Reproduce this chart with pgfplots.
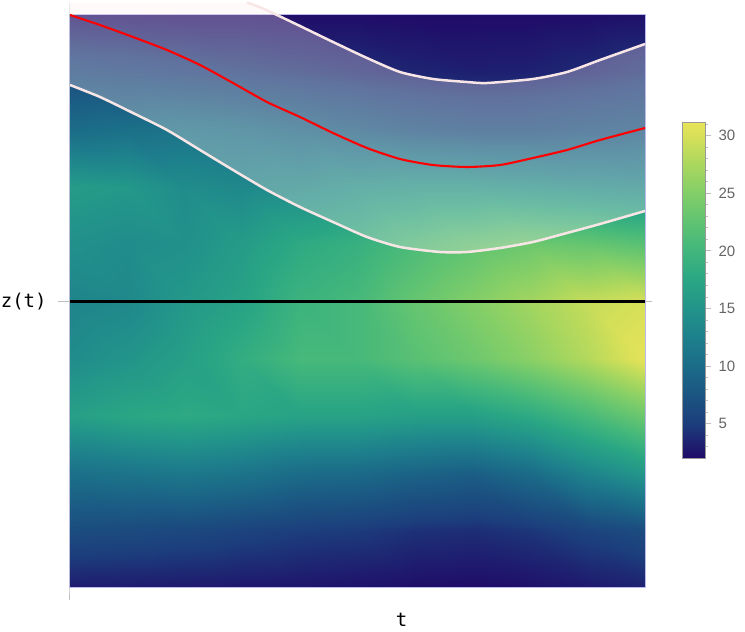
\documentclass[border=0pt]{standalone}
\usepackage{fontspec}
\setmainfont{Liberation Sans}
\setmonofont{DejaVu Sans Mono}
\usepackage{pgfplots}
\pgfplotsset{compat=1.18}

\definecolor{bandfill}{RGB}{255,238,238}
\definecolor{bandline}{RGB}{248,230,230}
\definecolor{frameline}{RGB}{185,185,235}
\definecolor{axgray}{RGB}{190,190,190}
\definecolor{ticklab}{RGB}{100,100,100}

\begin{document}
\begin{tikzpicture}
\useasboundingbox (-35pt,-22pt) rectangle (337.5pt,294pt);
\begin{axis}[
    scale only axis,
    width=287.5pt, height=286.5pt,
    xmin=0, xmax=1, ymin=-1, ymax=1,
    hide axis,
    clip=false,
    point meta min=2, point meta max=31.2,
    colormap={dens}{
        rgb255(2pt)=(32,10,104)
        rgb255(5pt)=(28,62,124)
        rgb255(7.5pt)=(27,85,130)
        rgb255(10pt)=(27,108,136)
        rgb255(12.5pt)=(30,128,140)
        rgb255(15pt)=(34,148,138)
        rgb255(17.5pt)=(42,166,132)
        rgb255(20pt)=(65,182,124)
        rgb255(22.5pt)=(95,195,114)
        rgb255(25pt)=(130,206,104)
        rgb255(27.5pt)=(170,215,94)
        rgb255(30pt)=(215,224,88)
        rgb255(31.2pt)=(232,228,88)
    },
    colorbar,
    colorbar style={
        at={(parent axis.north east)}, anchor=north west,
        xshift=10.2pt, yshift=-53.5pt,
        scale only axis, width=11.5pt, height=168pt,
        axis line style={draw=black!40, line width=0.4pt},
        ytick={5,10,...,30},
        minor ytick={3,4,...,31},
        ytick pos=right,
        tick align=outside,
        major tick length=3pt,
        minor tick length=1.5pt,
        tick style={draw=axgray, line width=0.4pt},
        minor tick style={draw=axgray, line width=0.4pt},
        /pgf/number format/assume math mode=true,
        yticklabel style={font=\fontsize{7.5pt}{9pt}\selectfont, text=ticklab},
    },
]

% density field, rows of constant z
\addplot[surf, shader=interp, mesh/rows=11, mesh/cols=11, point meta=explicit]
table[x=t, y=z, meta=c] {
t z c
0.0 -1.0 3.0
0.1 -1.0 2.9
0.2 -1.0 2.8
0.3 -1.0 2.7
0.4 -1.0 2.6
0.5 -1.0 2.4
0.6 -1.0 2.2
0.7 -1.0 2.1
0.8 -1.0 2.3
0.9 -1.0 2.8
1.0 -1.0 3.3
0.0 -0.8 6.5
0.1 -0.8 6.3
0.2 -0.8 6.0
0.3 -0.8 5.5
0.4 -0.8 5.0
0.5 -0.8 4.8
0.6 -0.8 4.2
0.7 -0.8 4.0
0.8 -0.8 4.5
0.9 -0.8 5.5
1.0 -0.8 6.5
0.0 -0.6 10.5
0.1 -0.6 11.0
0.2 -0.6 11.5
0.3 -0.6 11.0
0.4 -0.6 10.0
0.5 -0.6 9.8
0.6 -0.6 9.0
0.7 -0.6 8.5
0.8 -0.6 10.0
0.9 -0.6 13.0
1.0 -0.6 15.5
0.0 -0.4 16.5
0.1 -0.4 17.5
0.2 -0.4 18.0
0.3 -0.4 17.5
0.4 -0.4 17.0
0.5 -0.4 17.0
0.6 -0.4 16.5
0.7 -0.4 16.5
0.8 -0.4 18.0
0.9 -0.4 20.5
1.0 -0.4 23.5
0.0 -0.2 14.0
0.1 -0.2 15.0
0.2 -0.2 16.5
0.3 -0.2 18.5
0.4 -0.2 20.5
0.5 -0.2 20.5
0.6 -0.2 22.0
0.7 -0.2 23.5
0.8 -0.2 25.5
0.9 -0.2 28.0
1.0 -0.2 31.0
0.0 0.0 13.0
0.1 0.0 13.5
0.2 0.0 15.5
0.3 0.0 17.0
0.4 0.0 19.5
0.5 0.0 20.5
0.6 0.0 23.0
0.7 0.0 25.0
0.8 0.0 27.0
0.9 0.0 29.0
1.0 0.0 30.0
0.0 0.2 14.5
0.1 0.2 14.0
0.2 0.2 14.5
0.3 0.2 16.0
0.4 0.2 18.0
0.5 0.2 19.0
0.6 0.2 21.0
0.7 0.2 22.5
0.8 0.2 23.5
0.9 0.2 23.0
1.0 0.2 22.0
0.0 0.4 16.0
0.1 0.4 15.5
0.2 0.4 14.0
0.3 0.4 13.5
0.4 0.4 14.0
0.5 0.4 15.0
0.6 0.4 15.5
0.7 0.4 15.5
0.8 0.4 15.0
0.9 0.4 14.5
1.0 0.4 14.0
0.0 0.6 10.0
0.1 0.6 10.5
0.2 0.6 11.0
0.3 0.6 10.5
0.4 0.6 9.5
0.5 0.6 8.5
0.6 0.6 7.5
0.7 0.6 7.0
0.8 0.6 7.0
0.9 0.6 7.5
1.0 0.6 8.0
0.0 0.8 6.5
0.1 0.8 6.0
0.2 0.8 5.5
0.3 0.8 5.0
0.4 0.8 4.5
0.5 0.8 4.0
0.6 0.8 3.5
0.7 0.8 3.2
0.8 0.8 3.3
0.9 0.8 3.8
1.0 0.8 4.5
0.0 1.0 2.5
0.1 1.0 2.4
0.2 1.0 2.3
0.3 1.0 2.3
0.4 1.0 2.2
0.5 1.0 2.2
0.6 1.0 2.1
0.7 1.0 2.1
0.8 1.0 2.1
0.9 1.0 2.2
1.0 1.0 2.4
};

% frame of the density region
\draw[frameline, line width=0.5pt] (axis cs:0,-1) rectangle (axis cs:1,1);

% translucent band between the two white curves
\addplot[draw=none, fill=bandfill, fill opacity=0.3] coordinates {
(0,1.0436) (0.3078,1.0436) (0.3339,1.0244) (0.36,1.0) (0.4,0.9616)
(0.4574,0.9058) (0.5165,0.8499) (0.5739,0.8010) (0.6313,0.7766)
(0.6904,0.7661) (0.7252,0.7626) (0.8052,0.7766) (0.8643,0.8010)
(0.9217,0.8429) (1,0.8988)
(1,0.3159) (0.9217,0.2705) (0.8643,0.2391) (0.8052,0.2077)
(0.7478,0.1867) (0.6904,0.1728) (0.6435,0.1728) (0.5739,0.1902)
(0.5165,0.2251) (0.4574,0.2775) (0.4,0.3298) (0.3426,0.3892)
(0.2835,0.4590) (0.2261,0.5288) (0.1687,0.5986) (0.1096,0.6579)
(0.0522,0.7138) (0,0.7557)
} -- cycle;

% upper white curve
\addplot[bandline, line width=1.25pt, smooth, tension=0.4] coordinates {
(0.3078,1.0436) (0.3339,1.0244) (0.36,1.0) (0.4,0.9616)
(0.4574,0.9058) (0.5165,0.8499) (0.5739,0.8010) (0.6313,0.7766)
(0.6904,0.7661) (0.7252,0.7626) (0.8052,0.7766) (0.8643,0.8010)
(0.9217,0.8429) (1,0.8988)
};
% lower white curve
\addplot[bandline, line width=1.25pt, smooth, tension=0.4] coordinates {
(0,0.7557) (0.0522,0.7138) (0.1096,0.6579) (0.1687,0.5986)
(0.2261,0.5288) (0.2835,0.4590) (0.3426,0.3892) (0.4,0.3298)
(0.4574,0.2775) (0.5165,0.2251) (0.5739,0.1902) (0.6435,0.1728)
(0.6904,0.1728) (0.7478,0.1867) (0.8052,0.2077) (0.8643,0.2391)
(0.9217,0.2705) (1,0.3159)
};
% red centre curve
\addplot[red, line width=1.05pt, smooth, tension=0.4] coordinates {
(0,1.0) (0.0522,0.9651) (0.1096,0.9232) (0.1687,0.8778)
(0.2261,0.8255) (0.2835,0.7627) (0.3426,0.6963) (0.4,0.6440)
(0.4574,0.5881) (0.5165,0.5358) (0.5739,0.4974) (0.6313,0.4764)
(0.6904,0.4695) (0.7478,0.4764) (0.8052,0.5009) (0.8643,0.5288)
(0.9217,0.5637) (1,0.6056)
};

% axis decorations
\draw[axgray, line width=0.5pt] (axis cs:0,1.0436) -- (axis cs:0,-1) -- ++(0pt,-6pt);
\draw[axgray, line width=0.5pt] (axis cs:0,0) -- ++(-6pt,0pt);
\draw[axgray, line width=0.5pt] (axis cs:1,0) -- ++(3.5pt,0pt);
\addplot[black, line width=1.15pt] coordinates {(0,0) (1,0)};

\node[anchor=east, inner sep=0pt, xshift=-11.5pt,
      font=\ttfamily\fontsize{9.5pt}{11pt}\selectfont] at (axis cs:0,0) {z(t)};
\node[anchor=base, inner sep=0pt, yshift=-19.5pt,
      font=\ttfamily\fontsize{9.5pt}{11pt}\selectfont] at (axis cs:0.5765,-1) {t};
\end{axis}
\end{tikzpicture}
\end{document}
